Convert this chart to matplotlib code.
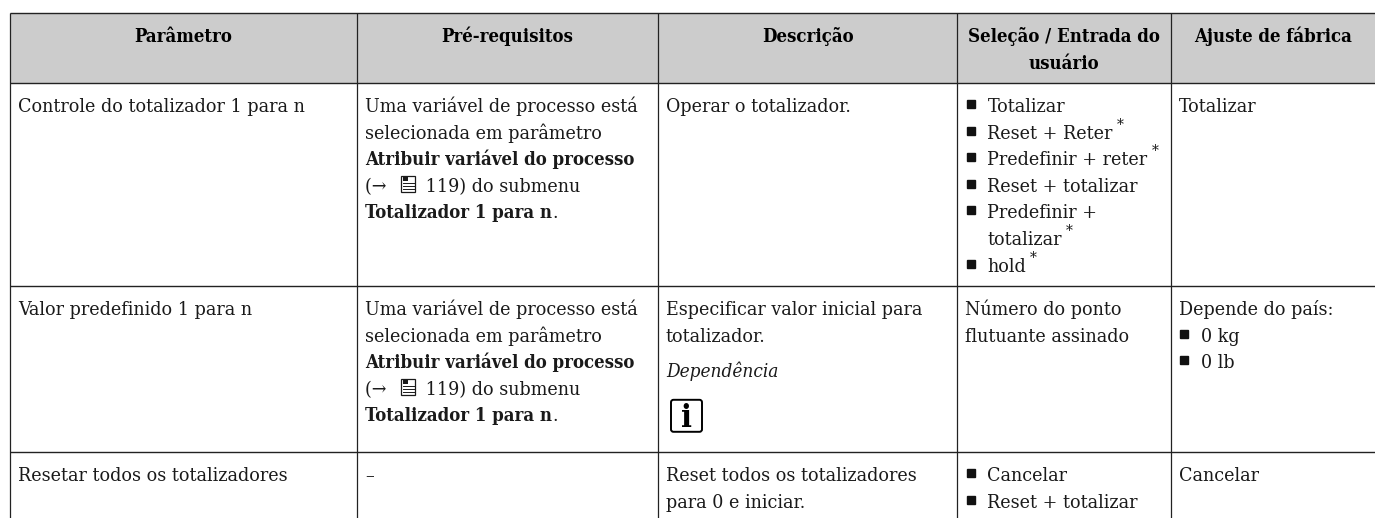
import matplotlib
matplotlib.use('Agg')
import matplotlib.pyplot as plt
from matplotlib.patches import Rectangle, FancyBboxPatch

plt.rcParams['font.family'] = ['DejaVu Serif']
plt.rcParams['font.stretch'] = 'condensed'

# Table structure (pixels of the source page)
col_edges = [10, 357, 658, 957.5, 1171, 1375]
row_edges = [13, 83, 286, 452, 518]
headers = [['Parâmetro'], ['Pré-requisitos'], ['Descrição'],
           ['Seleção / Entrada do', 'usuário'], ['Ajuste de fábrica']]

prereq = [[('Uma variável de processo está', 'n')],
          [('selecionada em parâmetro', 'n')],
          [('Atribuir variável do processo', 'b')],
          [('(→ ', 'n'), ('@', 'book'), (' 119) do submenu', 'n')],
          [('Totalizador 1 para n', 'b'), ('.', 'n')]]

# one entry per row, then per column; each line is a list of (text, style) runs
rows = [
    [[[('Controle do totalizador 1 para n', 'n')]],
     prereq,
     [[('Operar o totalizador.', 'n')]],
     [[('•', 'bullet'), ('Totalizar', 'n')],
      [('•', 'bullet'), ('Reset + Reter', 'n'), ('*', 'sup')],
      [('•', 'bullet'), ('Predefinir + reter', 'n'), ('*', 'sup')],
      [('•', 'bullet'), ('Reset + totalizar', 'n')],
      [('•', 'bullet'), ('Predefinir +', 'n')],
      [('totalizar', 'ind'), ('*', 'sup')],
      [('•', 'bullet'), ('hold', 'n'), ('*', 'sup')]],
     [[('Totalizar', 'n')]]],
    [[[('Valor predefinido 1 para n', 'n')]],
     prereq,
     [[('Especificar valor inicial para', 'n')],
      [('totalizador.', 'n')],
      [('Dependência', 'i')],
      [('', 'info')]],
     [[('Número do ponto', 'n')], [('flutuante assinado', 'n')]],
     [[('Depende do país:', 'n')],
      [('•', 'bullet'), ('0 kg', 'n')],
      [('•', 'bullet'), ('0 lb', 'n')]]],
    [[[('Resetar todos os totalizadores', 'n')]],
     [[('–', 'n')]],
     [[('Reset todos os totalizadores', 'n')], [('para 0 e iniciar.', 'n')]],
     [[('•', 'bullet'), ('Cancelar', 'n')],
      [('•', 'bullet'), ('Reset + totalizar', 'n')]],
     [[('Cancelar', 'n')]]],
]

FS = 14.0
FS_BOLD = 13.3
FS_HEAD = 13.3
LINE = 26.6
PAD = 8
INDENT = 22
INK = '#1a1a1a'

fig = plt.figure(figsize=(13.75, 5.18), dpi=100)
ax = fig.add_axes([0, 0, 1, 1])
ax.set_xlim(0, 1375)
ax.set_ylim(518, 0)
ax.axis('off')

ax.add_patch(Rectangle((col_edges[0], row_edges[0]), col_edges[-1] - col_edges[0],
                       row_edges[1] - row_edges[0], color='#cccccc', lw=0))
for y in row_edges[:-1]:
    ax.plot([col_edges[0], col_edges[-1]], [y, y], color='#222222', lw=1.0, solid_capstyle='butt')
for x in col_edges[:-1]:
    ax.plot([x, x], [row_edges[0], row_edges[-1]], color='#222222', lw=0.9, solid_capstyle='butt')

renderer = fig.canvas.get_renderer()


def put_text(x, y, s, size=FS, **kw):
    t = ax.text(x, y, s, va='baseline', ha='left', fontsize=size, color=INK, **kw)
    return t.get_window_extent(renderer).width


def book_icon(x, y):
    ax.add_patch(Rectangle((x + 9, y - 16), 14, 16, fc='white', ec=INK, lw=0.9))
    ax.add_patch(Rectangle((x + 10.5, y - 14.5), 5, 4, fc=INK, lw=0))
    for dy in (-8.5, -5.5, -2.5):
        ax.plot([x + 10.5, x + 21.5], [y + dy, y + dy], color=INK, lw=0.7)
    return 28


def info_icon(x, y):
    ax.add_patch(FancyBboxPatch((x + 5, y + 5), 31, 32, boxstyle='round,pad=0,rounding_size=2.5',
                                fc='white', ec='black', lw=1.4))
    ax.text(x + 20.5, y + 32, 'i', ha='center', va='baseline', fontsize=23, fontweight='bold',
            color='black')


def draw_line(x0, y, runs):
    x = x0
    for text, style in runs:
        if style == 'bullet':
            ax.plot([x0 + 5.5], [y - 8], marker='s', ms=5.4, color='#111111', ls='none')
            x = x0 + INDENT
        elif style == 'ind':
            x = x0 + INDENT + put_text(x0 + INDENT, y, text)
        elif style == 'n':
            x += put_text(x, y, text)
        elif style == 'b':
            x += put_text(x, y, text, size=FS_BOLD, fontweight='bold')
        elif style == 'i':
            x += put_text(x, y + 9, text, size=13.6, fontstyle='italic')
        elif style == 'sup':
            ax.text(x + 4, y - 10, text, va='baseline', ha='left', fontsize=11, color=INK)
            x += 10
        elif style == 'book':
            x += book_icon(x, y)
        elif style == 'info':
            info_icon(x, y)


# header cells
for c, lines in enumerate(headers):
    cx = (col_edges[c] + col_edges[c + 1]) / 2
    for i, text in enumerate(lines):
        ax.text(cx, 42 + i * LINE, text, ha='center', va='baseline', fontsize=FS_HEAD,
                fontweight='bold', color='#000000')

# body cells
for r, row in enumerate(rows):
    for c, lines in enumerate(row):
        x0 = col_edges[c] + PAD
        for i, runs in enumerate(lines):
            draw_line(x0, row_edges[r + 1] + 29 + i * LINE, runs)

fig.savefig('out.png', dpi=100, facecolor='white')
